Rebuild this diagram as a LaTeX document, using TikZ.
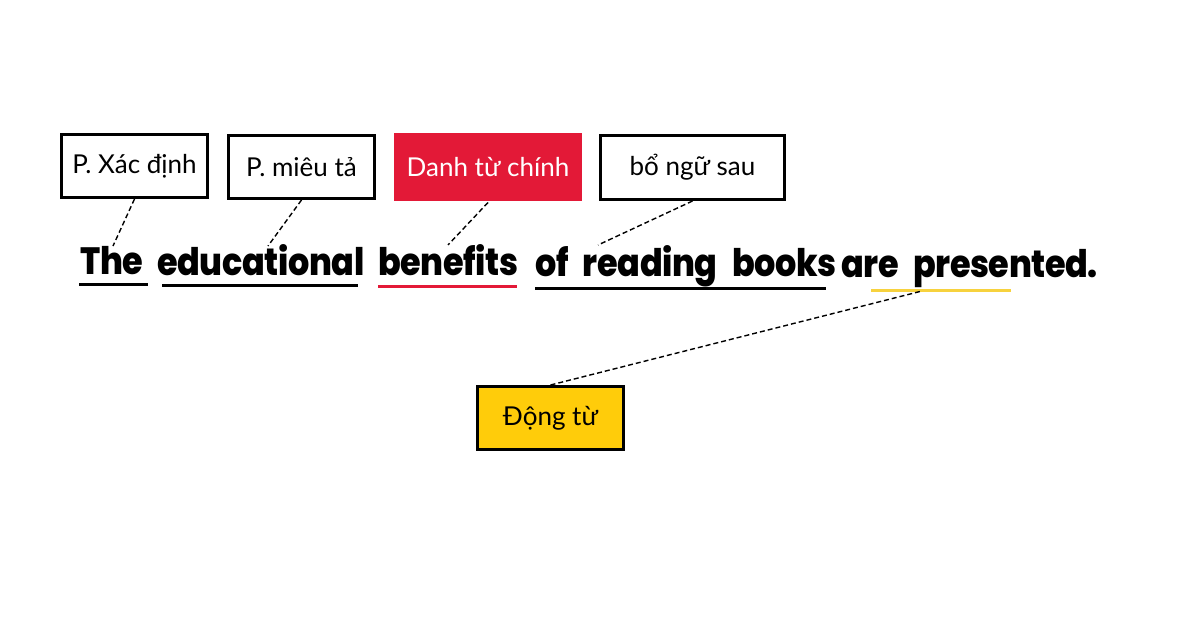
\documentclass[tikz,border=0pt]{standalone}
\usepackage{fontspec}
\setmainfont{Lato}
\newfontfamily\sentfont{Poppins}[BoldFont={* ExtraBold},LetterSpace=-1,FakeStretch=0.88,WordSpace=2.4]
\definecolor{headred}{HTML}{E31937}
\definecolor{verbyel}{HTML}{FFCC0A}
\definecolor{ulyel}{HTML}{F7D23E}

\begin{document}
\begin{tikzpicture}[x=1pt,y=-1pt,
  tag/.style={draw,line width=3pt,minimum width=146pt,minimum height=63pt,inner sep=0pt,
    font=\fontsize{26}{30}\selectfont},
  word/.style={anchor=base west,inner sep=0pt,font=\sentfont\bfseries\fontsize{38}{42}\selectfont},
  uline/.style={line width=3pt},
  link/.style={line width=1.4pt,dash pattern=on 5pt off 3pt}]
  \fill[white] (0,0) rectangle (1199,632);
  \useasboundingbox (0,0) rectangle (1199,632);

  \node[tag] (xd) at (134.5,166) {P. Xác định};
  \node[tag] (mt) at (301.5,167) {P. miêu tả};
  \node[tag,draw=none,fill=headred,text=white,minimum width=188pt,minimum height=68pt] (dt) at (488,167) {Danh từ chính};
  \node[tag,minimum width=184pt,minimum height=64pt] (bn) at (692.5,167.5) {bổ ngữ sau};
  \node[tag,fill=verbyel] (vb) at (550.5,418) {Động từ};

  \node[word] (w1) at (80,274) {The};
  \node[word] (w2) at (157,275) {educational};
  \node[word] (w3) at (378,275.5) {benefits};
  \node[word] (w4) at (535,276) {of reading books};
  \node[word] (w5) at (841,277) {are presented.};

  \draw[uline] (79,284)--(148,284);
  \draw[uline] (162,285)--(358,285);
  \draw[uline,headred] (378,286.5)--(517,286.5);
  \draw[uline] (535,288)--(826,288);
  \draw[uline,ulyel] (871,290)--(1011,290);

  \coordinate (e1) at (113,246);
  \coordinate (e2) at (268,246);
  \coordinate (e3) at (448,245);
  \coordinate (e4) at (598,245);
  \coordinate (e5) at (922,291);
  \draw[link] (xd.south)--(e1);
  \draw[link] (mt.south)--(e2);
  \draw[link] (dt.south)--(e3);
  \draw[link] (bn.south)--(e4);
  \draw[link] (vb.north)--(e5);
\end{tikzpicture}
\end{document}
